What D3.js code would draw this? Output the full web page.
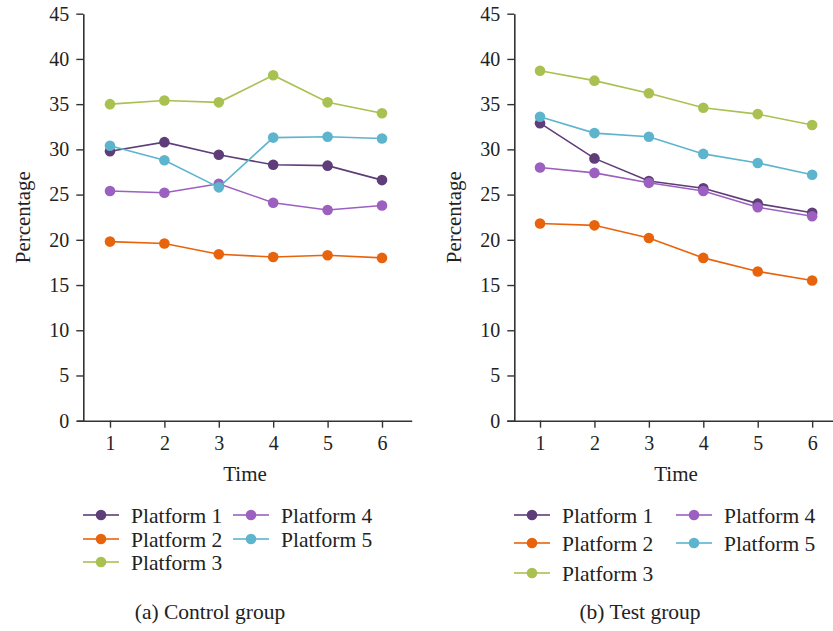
<!DOCTYPE html>
<html>
<head>
<meta charset="utf-8">
<script src="https://cdn.jsdelivr.net/npm/d3@7"></script>
</head>
<body style="margin:0;background:#fff">
<svg id="chart" width="833" height="631"></svg>
<script>
// Time points and series
const times = [1, 2, 3, 4, 5, 6];
const platforms = ["Platform 1", "Platform 2", "Platform 3", "Platform 4", "Platform 5"];
const colors = ["#5e3d78", "#e8640c", "#a9c150", "#9b60c0", "#5db4cd"];
const yTicks = [0, 5, 10, 15, 20, 25, 30, 35, 40, 45];

// Control group (%)
const control1 = [29.8, 30.8, 29.4, 28.3, 28.2, 26.6];
const control2 = [19.8, 19.6, 18.4, 18.1, 18.3, 18.0];
const control3 = [35.0, 35.4, 35.2, 38.2, 35.2, 34.0];
const control4 = [25.4, 25.2, 26.2, 24.1, 23.3, 23.8];
const control5 = [30.4, 28.8, 25.8, 31.3, 31.4, 31.2];

// Test group (%)
const test1 = [32.9, 29.0, 26.5, 25.7, 24.0, 23.0];
const test2 = [21.8, 21.6, 20.2, 18.0, 16.5, 15.5];
const test3 = [38.7, 37.6, 36.2, 34.6, 33.9, 32.7];
const test4 = [28.0, 27.4, 26.3, 25.4, 23.6, 22.6];
const test5 = [33.6, 31.8, 31.4, 29.5, 28.5, 27.2];

const FONT = '"Liberation Serif", monospace';

const panels = [
  {
    caption: "(a) Control group",
    series: [control1, control2, control3, control4, control5],
    yAxisX: 83.3, xRange: [76.7, 411.7], xDomain: [0.388, 6.546],
    percentX: 30, timeX: 245, captionX: 210,
    legend: { x1: 83, x2: 233, rows: [515, 539, 562] }
  },
  {
    caption: "(b) Test group",
    series: [test1, test2, test3, test4, test5],
    yAxisX: 514.3, xRange: [506.7, 833], xDomain: [0.388, 6.383],
    percentX: 461, timeX: 676, captionX: 640,
    legend: { x1: 514, x2: 676, rows: [515, 543, 573] }
  }
];

const svg = d3.select("#chart");
const yTop = 13.7, yBottom = 420.7;

panels.forEach(p => {
  const g = svg.append("g");
  const x = d3.scaleLinear().domain(p.xDomain).range(p.xRange);
  const y = d3.scaleLinear().domain([0, 45]).range([yBottom, yTop]);

  // axes
  const xAxis = g.append("g")
    .attr("transform", `translate(0,${yBottom})`)
    .call(d3.axisBottom(x).tickValues(times).tickFormat(d3.format("d"))
      .tickSize(7).tickSizeOuter(0).tickPadding(5));
  const yAxis = g.append("g")
    .attr("transform", `translate(${p.yAxisX},0)`)
    .call(d3.axisLeft(y).tickValues(yTicks).tickFormat(d3.format("d"))
      .tickSize(7).tickSizeOuter(0).tickPadding(7));
  [xAxis, yAxis].forEach(a => {
    a.attr("font-family", FONT).attr("font-size", 20);
    a.select(".domain").attr("stroke", "#333").attr("stroke-width", 1.6);
    a.selectAll(".tick line").attr("stroke", "#333").attr("stroke-width", 1.4);
    a.selectAll(".tick text").attr("fill", "#222");
  });
  xAxis.selectAll(".tick text").attr("dy", "0.85em");

  // axis titles
  g.append("text")
    .attr("transform", `translate(${p.percentX},${(yTop + yBottom) / 2}) rotate(-90)`)
    .attr("text-anchor", "middle").attr("font-size", 21).attr("fill", "#222")
    .attr("font-family", FONT).text("Percentage");
  g.append("text")
    .attr("x", p.timeX).attr("y", 481)
    .attr("text-anchor", "middle").attr("font-size", 21).attr("fill", "#222")
    .attr("font-family", FONT).text("Time");

  // lines and markers
  const line = d3.line().x((d, i) => x(times[i])).y(d => y(d));
  p.series.forEach((vals, k) => {
    g.append("path").datum(vals)
      .attr("d", line).attr("fill", "none")
      .attr("stroke", colors[k]).attr("stroke-width", 1.6);
    g.selectAll(null).data(vals).enter().append("circle")
      .attr("cx", (d, i) => x(times[i])).attr("cy", d => y(d))
      .attr("r", 5.3).attr("fill", colors[k]);
  });

  // legend: two columns
  platforms.forEach((name, k) => {
    const col = k < 3 ? 0 : 1;
    const row = k < 3 ? k : k - 3;
    const lx = col === 0 ? p.legend.x1 : p.legend.x2;
    const ly = p.legend.rows[row];
    const item = g.append("g").attr("transform", `translate(${lx},${ly})`);
    item.append("line").attr("x1", 0).attr("x2", 36).attr("y1", 0).attr("y2", 0)
      .attr("stroke", colors[k]).attr("stroke-width", 1.8).attr("stroke-opacity", 0.8);
    item.append("circle").attr("cx", 18).attr("cy", 0).attr("r", 5.3).attr("fill", colors[k]);
    item.append("text").attr("x", 48).attr("y", 0).attr("dy", "0.35em")
      .attr("font-size", 21.5).attr("fill", "#222").attr("font-family", FONT).text(name);
  });

  // panel caption
  g.append("text")
    .attr("x", p.captionX).attr("y", 619)
    .attr("text-anchor", "middle").attr("font-size", 21.5).attr("fill", "#222")
    .attr("font-family", FONT).text(p.caption);
});
</script>
</body>
</html>
